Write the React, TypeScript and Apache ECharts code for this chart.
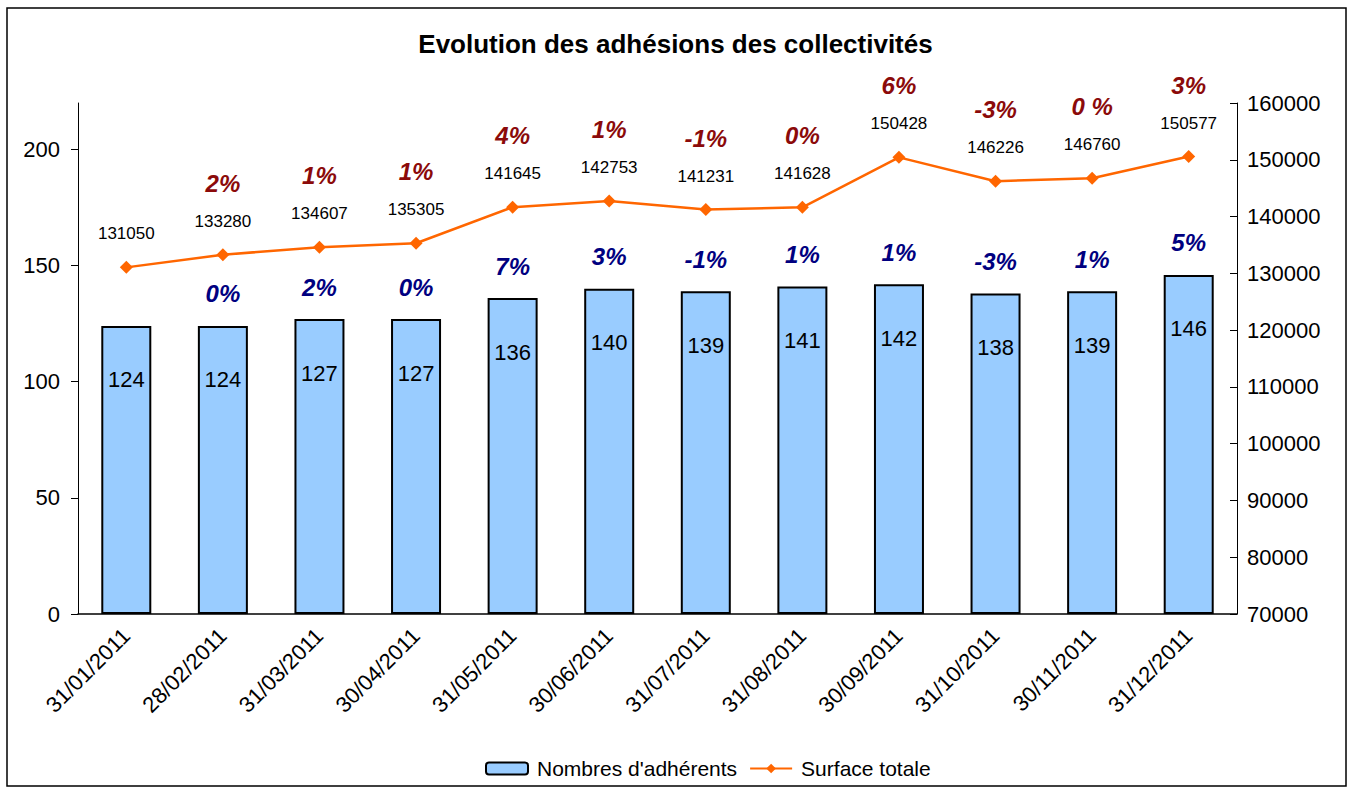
import React, { useEffect, useRef } from "react";
import * as echarts from "echarts";

const categories = [
  "31/01/2011", "28/02/2011", "31/03/2011", "30/04/2011", "31/05/2011", "30/06/2011",
  "31/07/2011", "31/08/2011", "30/09/2011", "31/10/2011", "30/11/2011", "31/12/2011",
];
const adherents = [124, 124, 127, 127, 136, 140, 139, 141, 142, 138, 139, 146];
const surface = [131050, 133280, 134607, 135305, 141645, 142753, 141231, 141628, 150428, 146226, 146760, 150577];
const adherentsPct = ["", "0%", "2%", "0%", "7%", "3%", "-1%", "1%", "1%", "-3%", "1%", "5%"];
const surfacePct = ["", "2%", "1%", "1%", "4%", "1%", "-1%", "0%", "6%", "-3%", "0 %", "3%"];
const leftTicks = [0, 50, 100, 150, 200];

const FONT = "'Liberation Sans', Arial, sans-serif";

export default function App() {
  const ref = useRef<HTMLDivElement>(null);
  useEffect(() => {
    if (!ref.current) return;
    const chart = echarts.init(ref.current, null, { renderer: "svg" });
    chart.setOption({
      animation: false,
      backgroundColor: "#ffffff",
      textStyle: { fontFamily: FONT },
      title: {
        text: "Evolution des adhésions des collectivités",
        left: "center",
        top: 26,
        textStyle: { fontFamily: FONT, fontSize: 26, fontWeight: "bold", color: "#000" },
      },
      graphic: [
        {
          type: "rect",
          shape: { x: 7, y: 8, width: 1339, height: 778 },
          style: { fill: "none", stroke: "#000", lineWidth: 1.5 },
          silent: true,
        },
      ],
      legend: {
        bottom: 5,
        left: 480,
        itemWidth: 42,
        itemHeight: 12,
        itemGap: 12,
        textStyle: { fontFamily: FONT, fontSize: 21, color: "#000", padding: [0, 0, 0, 4] },
        data: ["Nombres d'adhérents", "Surface totale"],
      },
      grid: { left: 78, right: 114, top: 103, bottom: 175 },
      xAxis: {
        type: "category",
        data: categories,
        boundaryGap: true,
        axisLine: { lineStyle: { color: "#000", width: 1.5 } },
        axisTick: { alignWithLabel: false, length: 7, lineStyle: { color: "#000" } },
        axisLabel: { rotate: 45, margin: 18, fontSize: 22, color: "#000", fontFamily: FONT, interval: 0 },
      },
      yAxis: [
        {
          type: "value",
          min: 0,
          max: 220,
          interval: 50,
          position: "left",
          splitLine: { show: false },
          axisLine: { show: true, lineStyle: { color: "#000", width: 1 } },
          axisTick: { show: true, length: 7, lineStyle: { color: "#000" }, customValues: leftTicks },
          axisLabel: { fontSize: 22, color: "#000", margin: 18, fontFamily: FONT, customValues: leftTicks },
        },
        {
          type: "value",
          min: 70000,
          max: 160000,
          interval: 10000,
          position: "right",
          splitLine: { show: false },
          axisLine: { show: true, lineStyle: { color: "#000", width: 1 } },
          axisTick: { show: true, length: 7, inside: true, lineStyle: { color: "#000" } },
          axisLabel: { fontSize: 22, color: "#000", margin: 10, fontFamily: FONT, formatter: (v: number) => String(v) },
        },
      ],
      series: [
        {
          name: "Nombres d'adhérents",
          type: "bar",
          yAxisIndex: 0,
          data: adherents,
          barWidth: 50,
          barGap: "-100%",
          itemStyle: { color: "#99CCFF", borderColor: "#000", borderWidth: 2 },
          label: {
            show: true,
            position: "insideTop",
            distance: 43,
            fontSize: 22,
            color: "#000",
            fontFamily: FONT,
          },
          z: 2,
        },
        {
          name: "pctAdh",
          type: "bar",
          yAxisIndex: 0,
          data: adherents,
          barWidth: 50,
          barGap: "-100%",
          silent: true,
          itemStyle: { color: "rgba(0,0,0,0)", borderWidth: 0 },
          label: {
            show: true,
            position: "top",
            distance: 20,
            formatter: (p: any) => adherentsPct[p.dataIndex],
            fontSize: 24,
            fontWeight: "bold",
            fontStyle: "italic",
            color: "#000080",
            fontFamily: FONT,
          },
          z: 3,
        },
        {
          name: "Surface totale",
          type: "line",
          yAxisIndex: 1,
          data: surface,
          symbol: "diamond",
          symbolSize: 13,
          lineStyle: { color: "#FF6600", width: 2.5 },
          itemStyle: { color: "#FF6600" },
          label: {
            show: true,
            position: "top",
            distance: 16,
            formatter: (p: any) => {
              const pct = surfacePct[p.dataIndex];
              const v = String(surface[p.dataIndex]);
              return pct ? `{p|${pct}}\n{v|${v}}` : `{v|${v}}`;
            },
            rich: {
              p: { fontSize: 24, fontWeight: "bold", fontStyle: "italic", color: "#8B0A0A", lineHeight: 54, fontFamily: FONT },
              v: { fontSize: 17, color: "#000", lineHeight: 22, fontFamily: FONT },
            },
          },
          z: 5,
        },
      ],
    });
    return () => chart.dispose();
  }, []);
  return (
    <div
      ref={ref}
      style={{ position: "fixed", left: 0, top: 0, width: 1351, height: 789 }}
    />
  );
}
